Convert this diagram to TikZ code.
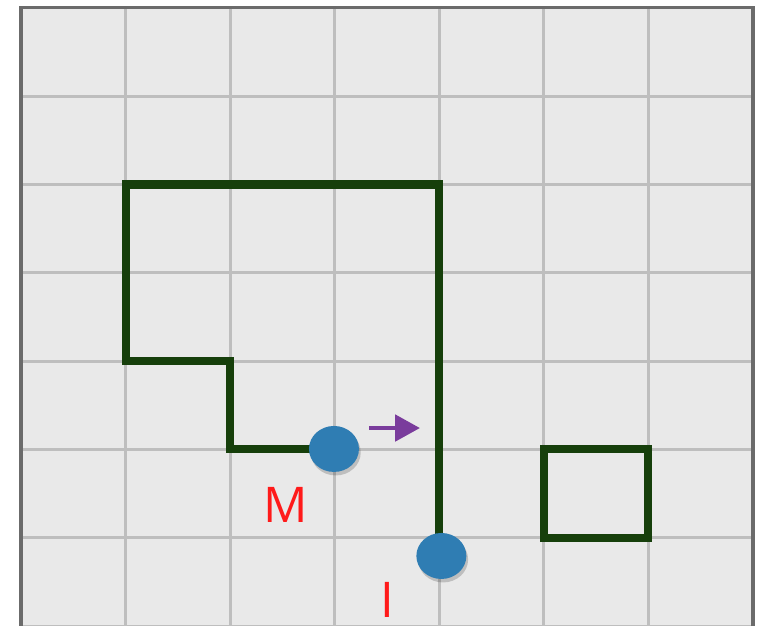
\documentclass[tikz,border=0pt]{standalone}
\usepackage{fontspec}
\setmainfont{Open Sans}
\usetikzlibrary{arrows.meta, positioning, shapes.geometric, shadows}
\definecolor{PathGreen}{HTML}{163F0B}
\definecolor{DotBlue}{HTML}{2F7DB3}
\definecolor{ArrowPurple}{HTML}{7A3C9C}
\definecolor{LabelRed}{HTML}{FF1A1A}
\definecolor{CellGray}{HTML}{E9E9E9}
\definecolor{GridGray}{HTML}{BEBEBE}
\definecolor{BorderGray}{HTML}{6B6B6B}

\begin{document}
\begin{tikzpicture}[x=1.0457cm, y=0.883cm,
    dot/.style={ellipse, fill=DotBlue, minimum width=0.5cm, minimum height=0.46cm, inner sep=0pt,
                drop shadow={shadow xshift=0.5pt, shadow yshift=-1pt, opacity=0.18, fill=black}},
    tag/.style={font=\fontsize{14}{16}\selectfont, color=LabelRed, inner sep=0pt},
    route/.style={color=PathGreen, line width=2.3pt, line join=miter}]
    \useasboundingbox (-0.2008,0) rectangle (7.0766,7.0895);
    % board
    \fill[CellGray] (0,0) rectangle (7,7);
    \draw[GridGray, line width=0.85pt, xstep=1.0457cm, ystep=0.883cm] (0,0) grid (7,7);
    \draw[BorderGray, line width=0.9pt] (0,0) -- (0,7) -- (7,7) -- (7,0);

    % walls
    \coordinate (start) at (3,2);
    \coordinate (stop) at (4,1);
    \draw[route] (start) -- (2,2) -- (2,3) -- (1,3) -- (1,5) -- (4,5) -- (stop);
    \draw[route] (5,1) rectangle (6,2);

    % pieces
    \node[dot] (dotM) at (2.993,2.005) {};
    \node[dot] (dotI) at (4.02,0.793) {};
    \node[tag] (labelM) at (2.534,1.37) {M};
    \node[tag] (labelI) at (3.50,0.29) {I};

    \coordinate (moveA) at (3.328,2.242);
    \coordinate (moveB) at (3.816,2.242);
    \draw[-{Triangle[length=7.1pt, width=7.4pt]}, color=ArrowPurple, line width=1.4pt] (moveA) -- (moveB);
\end{tikzpicture}
\end{document}
